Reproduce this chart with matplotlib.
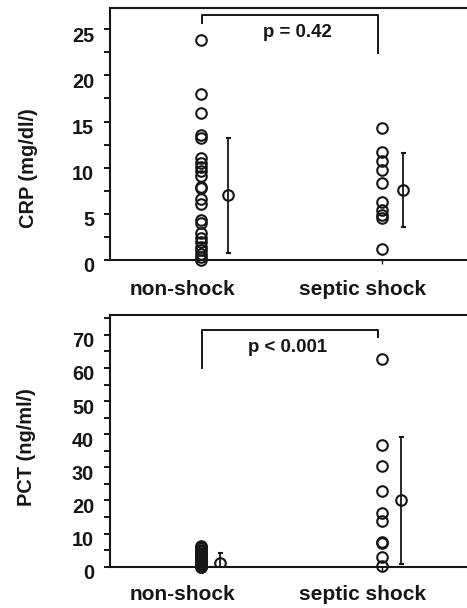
import numpy as np
import matplotlib
matplotlib.use("Agg")
import matplotlib.pyplot as plt
import matplotlib.transforms as mtransforms

plt.rcParams['font.family'] = ['Liberation Sans', 'DejaVu Sans']
plt.rcParams['font.weight'] = 'bold'

# data
groups = ["non-shock", "septic shock"]

crp_non_shock = [23.8, 17.95, 15.9, 13.55, 13.2, 11.1, 10.5, 10.1, 9.6, 9.1, 7.95, 7.85,
                 6.6, 6.1, 4.3, 4.05, 2.95, 2.35, 1.9, 1.45, 1.1, 0.7, 0.35, 0.0]
crp_septic = [14.35, 11.7, 10.7, 9.75, 8.3, 6.25, 5.4, 4.9, 4.5, 1.15]
crp_mean = [7.0, 7.6]
crp_sd = [6.2, 4.0]
crp_p = "p = 0.42"

pct_non_shock = [6.3, 5.9, 5.5, 5.0, 4.6, 4.2, 3.8, 3.4, 3.0, 2.6, 2.2, 1.9,
                 1.6, 1.3, 1.0, 0.8, 0.6, 0.5, 0.4, 0.3, 0.2, 0.1, 0.05, 0.0]
pct_septic = [62.7, 36.8, 30.4, 23.0, 16.3, 13.9, 7.55, 7.05, 3.0, 0.3]
pct_mean = [1.2, 20.1]
pct_sd = [2.8, 19.2]
pct_p = "p < 0.001"

fig = plt.figure(figsize=(4.67, 6.08), dpi=100)
W, H = 467.0, 608.0
INK = '#161616'


def panel(rect, pts, means, sds, offsets, ymax, major, minor, ptext, bracket, ptext_y, ylabel, ylabel_pos, xlab_y):
    ax = fig.add_axes(rect)
    ax.set_xlim(0.5, 2.5)
    ax.set_ylim(0, ymax)
    for i, vals in enumerate(pts):
        ax.plot(np.full(len(vals), i + 1.0), vals, 'o', ms=7.6, mfc='none', mec=INK,
                mew=1.5, clip_on=False, zorder=3)
        ax.errorbar(i + 1 + offsets[i], means[i], yerr=sds[i], fmt='o', ms=7.6, mfc='none',
                    mec=INK, mew=1.5, ecolor=INK, elinewidth=1.3, capsize=1.8,
                    capthick=1.3, clip_on=True, zorder=3)
    # significance bracket
    bx, btop, bl, br = bracket
    ax.plot([bx[0], bx[0], bx[1], bx[1]], [bl, btop, btop, br], color=INK, lw=1.4,
            clip_on=False)
    ax.text(sum(bx) / 2 + (0.04 if '=' in ptext else -0.01), ptext_y, ptext, ha='center',
            va='center', fontsize=13.4, fontweight='bold', color=INK)
    # spines
    for s in ['left', 'top', 'bottom']:
        ax.spines[s].set_linewidth(1.5)
        ax.spines[s].set_color(INK)
    ax.spines['right'].set_visible(False)
    ax.set_yticks(np.arange(0, ymax, major))
    ax.set_yticks(np.arange(0, ymax, minor), minor=True)
    ax.set_yticklabels([str(int(v)) for v in np.arange(0, ymax, major)])
    ax.tick_params(axis='y', which='both', direction='out', length=4.5, width=1.4,
                   color=INK, pad=7, labelsize=14.3, labelcolor=INK)
    off = mtransforms.ScaledTranslation(0, -5 / 100.0, fig.dpi_scale_trans)
    for lab in ax.get_yticklabels():
        lab.set_transform(lab.get_transform() + off)
        lab.set_fontweight('bold')
    ax.set_xticks([2])
    ax.set_xticklabels([])
    ax.tick_params(axis='x', direction='out', length=3, width=1.0, color=INK)
    # group labels
    trans = mtransforms.blended_transform_factory(ax.transData, ax.transAxes)
    for xpos, g in zip([0.9, 1.895], groups):
        ax.text(xpos, xlab_y, g, transform=trans, ha='center', va='center', fontsize=15,
                fontweight='bold', color=INK)
    fig.text(ylabel_pos[0], ylabel_pos[1], ylabel, rotation=90, ha='center', va='center',
             fontsize=14.4, fontweight='bold', color=INK)
    return ax


panel([110 / W, 1 - 260 / H, 362 / W, 252 / H], [crp_non_shock, crp_septic], crp_mean, crp_sd,
      [0.15, 0.12], 27.3, 5, 2.5, crp_p, ((1.007, 1.98), 26.5, 25.7, 22.4), 24.6,
      "CRP (mg/dl/)", (28 / W, 1 - 168 / H), -0.117)

panel([110 / W, 1 - 566.7 / H, 362 / W, 251.7 / H], [pct_non_shock, pct_septic], pct_mean, pct_sd,
      [0.11, 0.11], 76.0, 10, 5, pct_p, ((1.007, 1.98), 71.5, 59.9, 69.3), 66.3,
      "PCT (ng/ml/)", (26 / W, 1 - 447 / H), -0.112)

fig.savefig("out.png", dpi=100)
